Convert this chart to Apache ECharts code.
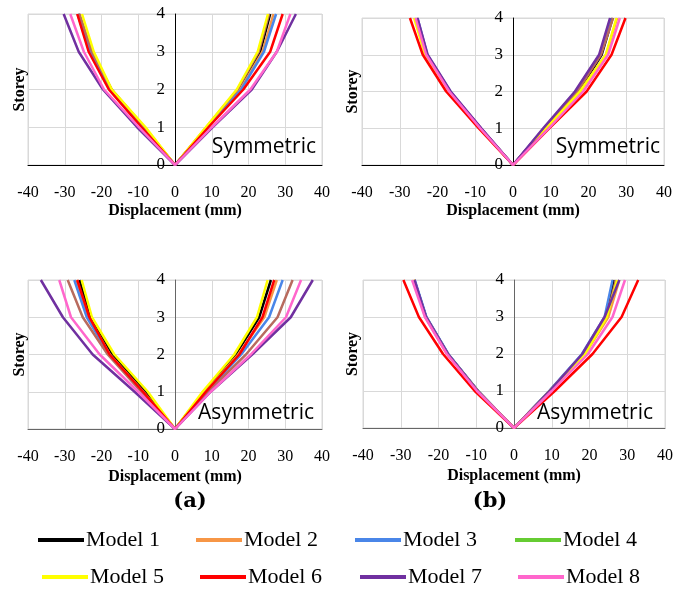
<!DOCTYPE html>
<html>
<head>
<meta charset="utf-8">
<script src="https://cdn.jsdelivr.net/npm/echarts@6/dist/echarts.min.js"></script>
<style>
  html, body { margin: 0; padding: 0; background: #fff; }
  #charts { width: 688px; height: 589px; }
</style>
</head>
<body>
<div id="charts"></div>
<script>
// storeys 1..4, storey 0 is always at 0 mm
const storeys = [1, 2, 3, 4];
const models = ['Model 1', 'Model 2', 'Model 3', 'Model 4', 'Model 5', 'Model 6', 'Model 7', 'Model 8'];
const xTicks = { min: -40, max: 40, step: 10 };
const yTicks = { min: 0, max: 4, step: 1 };

// (a) symmetric - displacement (mm) per storey, one row per model
const aSymLeft = [
  [-8.5, -17.3, -22.7, -26.2],
  [-8.7, -17.6, -23.0, -26.4],
  [-8.9, -17.8, -23.2, -26.5],
  [-8.3, -17.2, -22.6, -26.0],
  [-8.0, -17.2, -22.1, -25.3],
  [-9.1, -18.0, -23.5, -26.6],
  [-10.3, -19.6, -26.2, -30.3],
  [-9.8, -19.3, -24.8, -28.5]
];
const aSymRight = [
  [8.7, 17.3, 23.2, 25.9],
  [8.9, 17.7, 23.8, 26.8],
  [9.0, 18.0, 24.2, 27.5],
  [8.5, 17.0, 22.8, 25.6],
  [8.4, 16.8, 22.5, 25.3],
  [9.1, 18.6, 25.9, 29.3],
  [10.2, 20.9, 27.7, 32.9],
  [10.0, 20.5, 27.7, 31.4]
];
// (b) symmetric
const bSymLeft = [
  [-8.6, -16.8, -22.9, -25.6],
  [-8.8, -17.1, -23.2, -26.0],
  [-8.5, -16.6, -22.7, -25.3],
  [-8.5, -16.7, -22.8, -25.5],
  [-8.8, -17.2, -23.3, -26.2],
  [-9.1, -17.7, -23.9, -27.3],
  [-8.4, -16.5, -22.6, -25.3],
  [-8.7, -16.9, -23.0, -25.8]
];
const bSymRight = [
  [8.4, 17.3, 23.5, 26.4],
  [8.7, 17.8, 24.6, 27.6],
  [8.2, 16.6, 23.0, 25.9],
  [8.3, 17.0, 23.3, 26.5],
  [8.8, 17.7, 24.6, 27.4],
  [9.6, 19.5, 26.1, 29.8],
  [8.0, 16.4, 22.8, 25.7],
  [9.5, 18.6, 25.2, 28.3]
];
// (a) asymmetric
const aAsymLeft = [
  [-8.0, -17.0, -23.0, -26.0],
  [-8.6, -17.7, -23.5, -26.8],
  [-8.8, -17.9, -24.0, -27.4],
  [-9.2, -18.3, -25.1, -29.2],
  [-7.4, -16.5, -22.6, -25.4],
  [-8.7, -17.8, -23.3, -26.6],
  [-11.0, -22.4, -30.5, -36.5],
  [-10.0, -20.5, -28.3, -31.5]
];
const aAsymRight = [
  [7.9, 16.5, 22.9, 26.1],
  [8.2, 17.2, 24.3, 27.7],
  [8.6, 18.0, 25.6, 29.3],
  [9.0, 19.3, 27.9, 32.0],
  [7.5, 16.1, 22.3, 25.2],
  [8.4, 17.5, 23.8, 27.0],
  [9.7, 21.0, 31.5, 37.5],
  [9.7, 20.6, 30.2, 34.3]
];
// (b) asymmetric
const bAsymLeft = [
  [-9.5, -17.5, -23.3, -26.4],
  [-9.6, -17.7, -23.5, -26.6],
  [-9.5, -17.4, -23.2, -26.3],
  [-9.6, -17.6, -23.4, -26.5],
  [-9.6, -17.6, -23.4, -26.6],
  [-10.4, -18.8, -25.2, -29.3],
  [-9.6, -17.5, -23.3, -26.4],
  [-9.8, -17.8, -23.6, -27.0]
];
const bAsymRight = [
  [9.4, 18.2, 24.3, 26.4],
  [9.8, 18.8, 25.0, 27.9],
  [9.3, 18.0, 24.0, 26.1],
  [9.4, 18.3, 24.5, 27.0],
  [9.6, 18.8, 24.6, 27.3],
  [10.8, 20.8, 28.5, 32.9],
  [9.5, 18.1, 24.0, 27.9],
  [10.0, 19.6, 26.1, 29.4]
];

const lineColors = ['#000000', '#f79646', '#4a86e8', '#b86b5e', '#ffff00', '#ff0000', '#7030a0', '#ff66cc'];
const legendColors = ['#000000', '#f79646', '#4a86e8', '#66cc33', '#ffff00', '#ff0000', '#7030a0', '#ff66cc'];

const serif = '"Liberation Serif", "Times New Roman", serif';

// panel layout: grid box, axis colour, label text
const panels = [
  { left: aSymLeft, right: aSymRight, grid: { left: 28, top: 14, width: 294, height: 151 }, axisColor: '#000', nameX: 20, tag: 'Symmetric', tagX: 316, tagY: 147 },
  { left: bSymLeft, right: bSymRight, grid: { left: 362, top: 18, width: 302, height: 147 }, axisColor: '#000', nameX: 353, tag: 'Symmetric', tagX: 660, tagY: 147 },
  { left: aAsymLeft, right: aAsymRight, grid: { left: 28, top: 280, width: 294, height: 149 }, axisColor: '#666', nameX: 20, tag: 'Asymmetric', tagX: 314, tagY: 413 },
  { left: bAsymLeft, right: bAsymRight, grid: { left: 363, top: 280, width: 302, height: 148 }, axisColor: '#666', nameX: 353, tag: 'Asymmetric', tagX: 653, tagY: 413 }
];

function buildCurve (leftRow, rightRow) {
  let pts = [];
  for (let i = storeys.length - 1; i >= 0; i--) pts.push([leftRow[i], storeys[i]]);
  pts.push([0, 0]);
  for (let i = 0; i < storeys.length; i++) pts.push([rightRow[i], storeys[i]]);
  return pts;
}

let grids = [], xAxes = [], yAxes = [], series = [], graphics = [];

panels.forEach((p, g) => {
  grids.push(Object.assign({ show: true, borderColor: '#d9d9d9', borderWidth: 1, containLabel: false, outerBoundsMode: 'none' }, p.grid));
  xAxes.push({
    type: 'value', gridIndex: g,
    min: xTicks.min, max: xTicks.max, interval: xTicks.step,
    axisLine: { show: true, lineStyle: { color: p.axisColor, width: 1 } },
    axisTick: { show: false },
    splitLine: { show: true, lineStyle: { color: '#d9d9d9', width: 1 } },
    axisLabel: { margin: 20, fontSize: 16, fontFamily: serif, color: '#000' },
    name: 'Displacement (mm)', nameLocation: 'middle', nameGap: g < 2 ? 38 : 40,
    nameTextStyle: { fontSize: 16, fontWeight: 'bold', fontFamily: serif, color: '#000' }
  });
  // y axis sits at x = 0, in the middle of the plot, labels on its left
  yAxes.push({
    type: 'value', gridIndex: g, position: 'left',
    offset: -p.grid.width / 2,
    min: yTicks.min, max: yTicks.max, interval: yTicks.step,
    axisLine: { show: true, onZero: false, lineStyle: { color: p.axisColor, width: 1 } },
    axisTick: { show: false },
    splitLine: { show: true, lineStyle: { color: '#d9d9d9', width: 1 } },
    axisLabel: { margin: 10, fontSize: 17, fontFamily: serif, color: '#000' }
  });
  models.forEach((m, k) => {
    series.push({
      name: m, type: 'line', xAxisIndex: g, yAxisIndex: g,
      data: buildCurve(p.left[k], p.right[k]),
      symbol: 'none', silent: true,
      color: lineColors[k],
      lineStyle: { width: 2.5, color: lineColors[k] }
    });
  });
  graphics.push({
    type: 'text', x: p.tagX, y: p.tagY, z: 100,
    style: { text: p.tag, font: '21px "Open Sans", sans-serif', fill: '#000', textAlign: 'right', textVerticalAlign: 'middle' }
  });
  graphics.push({
    type: 'text', x: p.nameX, y: p.grid.top + p.grid.height / 2, rotation: Math.PI / 2,
    style: { text: 'Storey', font: 'bold 16px ' + serif, fill: '#000', textAlign: 'center', textVerticalAlign: 'middle' }
  });
});

graphics.push({ type: 'text', x: 190, y: 502, style: { text: '(a)', font: 'bold 21px "DejaVu Serif", serif', fill: '#000', textAlign: 'center', textVerticalAlign: 'middle' } });
graphics.push({ type: 'text', x: 490, y: 502, style: { text: '(b)', font: 'bold 21px "DejaVu Serif", serif', fill: '#000', textAlign: 'center', textVerticalAlign: 'middle' } });

// legend, two rows of four
const legendPos = [[38, 529], [196, 529], [355, 529], [515, 529], [42, 566], [200, 566], [360, 566], [518, 566]];
let legends = models.map((m, k) => ({
  data: [{ name: m, itemStyle: { color: legendColors[k] } }],
  left: legendPos[k][0], top: legendPos[k][1],
  padding: 0, icon: 'rect', itemWidth: 46, itemHeight: 4,
  selectedMode: false,
  textStyle: { fontSize: 22, fontFamily: serif, color: '#000', padding: [0, 0, 0, -3] }
}));

let myChart = echarts.init(document.getElementById('charts'));
myChart.setOption({
  animation: false,
  grid: grids,
  xAxis: xAxes,
  yAxis: yAxes,
  legend: legends,
  graphic: graphics,
  series: series
});
</script>
</body>
</html>
